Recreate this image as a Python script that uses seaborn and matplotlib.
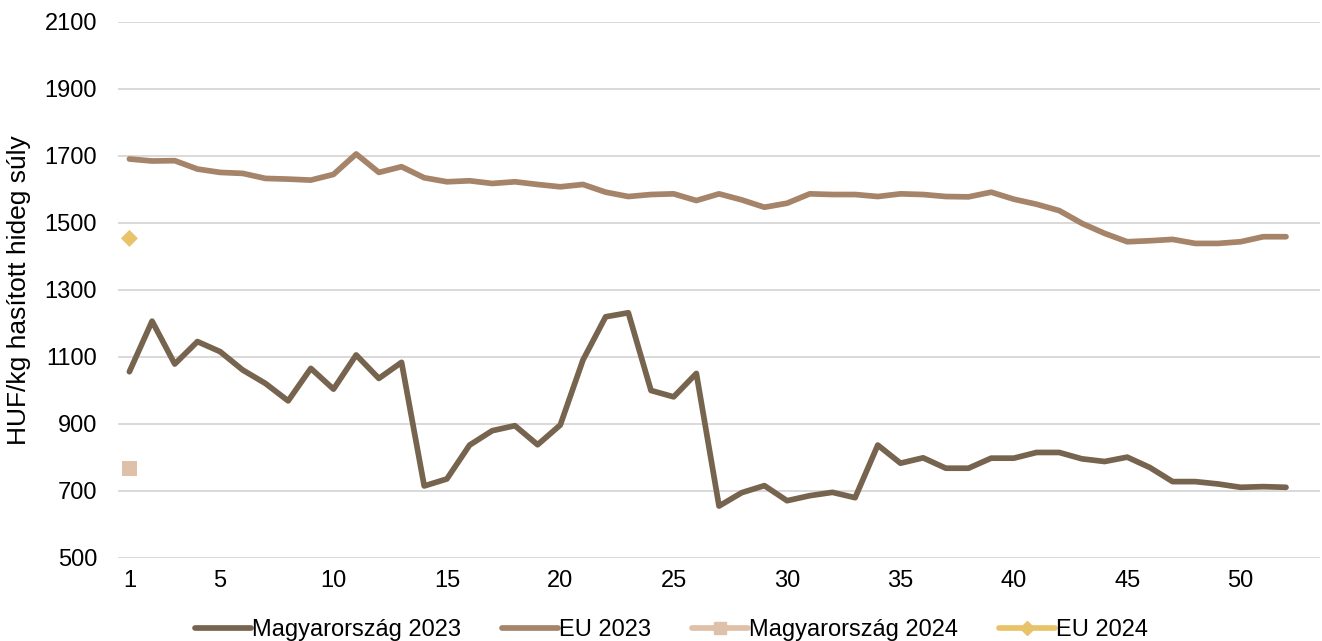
import seaborn as sns
import matplotlib.pyplot as plt
import pandas as pd
from matplotlib.lines import Line2D

weeks_2023 = list(range(1, 53))
hu_2023 = [1056, 1207, 1079, 1146, 1116, 1061, 1021, 969, 1066, 1004,
           1106, 1036, 1084, 715, 736, 837, 880, 895, 838, 897,
           1091, 1220, 1232, 1000, 981, 1051, 655, 695, 716, 671,
           686, 696, 680, 837, 783, 799, 768, 768, 798, 798,
           815, 815, 796, 788, 801, 770, 728, 728, 721, 711,
           713, 711]
eu_2023 = [1691, 1685, 1686, 1661, 1651, 1648, 1633, 1631, 1628, 1645,
           1706, 1651, 1668, 1635, 1623, 1626, 1618, 1623, 1615, 1608,
           1615, 1592, 1579, 1585, 1587, 1567, 1587, 1569, 1547, 1559,
           1587, 1585, 1585, 1579, 1587, 1585, 1579, 1578, 1592, 1571,
           1556, 1537, 1499, 1469, 1444, 1447, 1451, 1439, 1439, 1444,
           1459, 1459]
weeks_2024 = [1]
hu_2024 = [768]
eu_2024 = [1454]

series_names = ['Magyarország 2023', 'EU 2023', 'Magyarország 2024', 'EU 2024']
colors = ['#76644f', '#a6846a', '#dfc0a8', '#e8c36a']
y_ticks = [500, 700, 900, 1100, 1300, 1500, 1700, 1900, 2100]
x_ticks = [1, 5, 10, 15, 20, 25, 30, 35, 40, 45, 50]

df_23 = pd.DataFrame({'week': weeks_2023 * 2,
                      'value': hu_2023 + eu_2023,
                      'series': [series_names[0]] * 52 + [series_names[1]] * 52})

sns.set_style('white')
plt.rcParams['font.family'] = ['Liberation Sans', 'DejaVu Sans']
plt.rcParams['text.color'] = 'black'
plt.rcParams['axes.labelcolor'] = 'black'

fig = plt.figure(figsize=(13.22, 6.41), dpi=100)
ax = fig.add_axes([0.0893, 0.1295, 0.9092, 0.8362])

sns.lineplot(data=df_23, x='week', y='value', hue='series',
             palette=colors[:2], linewidth=4.1, legend=False, ax=ax)
sns.scatterplot(x=weeks_2024, y=hu_2024, marker='s', s=120, color=colors[2],
                edgecolor='none', ax=ax)
sns.scatterplot(x=weeks_2024, y=eu_2024, marker='D', s=75, color=colors[3],
                edgecolor='none', ax=ax)

ax.set_xlim(0.5, 53.5)
ax.set_ylim(500, 2100)
ax.set_yticks(y_ticks)
ax.set_xticks(x_ticks)
ax.tick_params(axis='both', labelsize=17, length=0, colors='black')
ax.tick_params(axis='x', pad=9)
ax.tick_params(axis='y', pad=15)
ax.yaxis.grid(True, color='#d9d9d9', linewidth=1.4)
ax.set_axisbelow(True)
for s in ax.spines.values():
    s.set_visible(False)
ax.set_xlabel('')
ax.set_ylabel('HUF/kg hasított hideg súly', fontsize=19, labelpad=10)

handles = [
    Line2D([], [], color=colors[0], linewidth=4.1),
    Line2D([], [], color=colors[1], linewidth=4.1),
    Line2D([], [], color=colors[2], linewidth=4.1, marker='s', markersize=9),
    Line2D([], [], color=colors[3], linewidth=4.1, marker='D', markersize=7),
]
fig.legend(handles, series_names, loc='lower center', bbox_to_anchor=(0.508, -0.033),
           ncol=4, frameon=False, fontsize=17, handlelength=2.35,
           handletextpad=0.05, columnspacing=1.75, labelcolor='black')

fig.savefig('out.png', dpi=100)
